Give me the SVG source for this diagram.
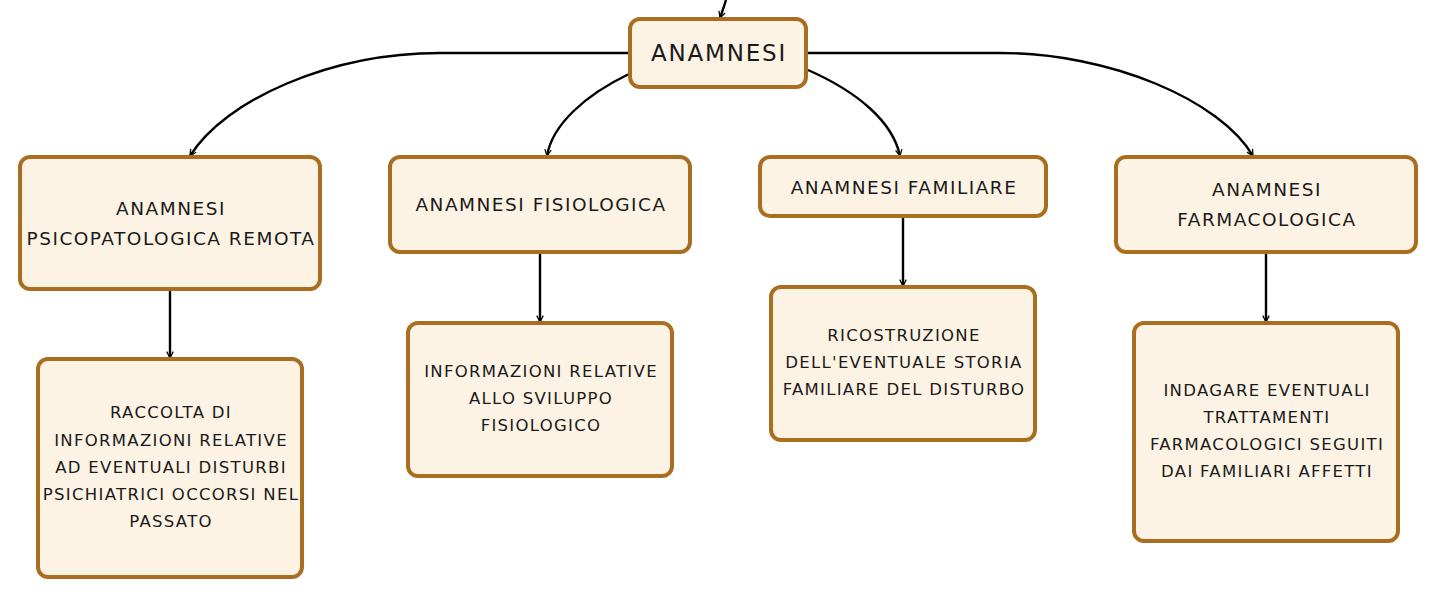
<svg xmlns="http://www.w3.org/2000/svg" width="1436" height="598" viewBox="0 0 1436 598">
<defs>
<marker id="arr" viewBox="0 0 10 10" refX="9" refY="5" markerWidth="8" markerHeight="8" markerUnits="userSpaceOnUse" orient="auto">
<path d="M1,1 L9,5 L1,9" fill="none" stroke="#000" stroke-width="1.6"/>
</marker>
<style>
.box{fill:#fdf3e5;stroke:#a96e1f;stroke-width:4}
.t{font-family:"DejaVu Sans","Open Sans",sans-serif;fill:#1a1a1a;text-anchor:middle}
.s{font-size:16.5px;letter-spacing:1.3px}
.m{font-size:18.5px;letter-spacing:1.5px}
.c{fill:none;stroke:#000;stroke-width:2.4;marker-end:url(#arr)}
</style>
</defs>
<rect width="1436" height="598" fill="#fff"/>
<g id="connectors">
<path class="c" d="M726,0 C724,7 722,12 720,18"/>
<path class="c" d="M629,53 L440,53 C330,53 225,100 190,156"/>
<path class="c" d="M629,74 C585,95 552,125 547,156"/>
<path class="c" d="M808,70 C858,92 893,122 900,156"/>
<path class="c" d="M806,53 L1000,53 C1110,53 1220,100 1253,156"/>
<path class="c" d="M170,289 L170,358"/>
<path class="c" d="M540,252 L540,322"/>
<path class="c" d="M903,216 L903,286"/>
<path class="c" d="M1266,252 L1266,322"/>
</g>
<g id="n0"><rect class="box" x="630" y="19" width="176" height="68" rx="10"/><text class="t" x="719" y="61" font-size="23" letter-spacing="1.8">ANAMNESI</text></g>
<g id="n1"><rect class="box" x="20" y="157" width="300" height="132" rx="10"/><text class="t m" x="171" y="215">ANAMNESI</text><text class="t m" x="171" y="245">PSICOPATOLOGICA REMOTA</text></g>
<g id="n2"><rect class="box" x="390" y="157" width="300" height="95" rx="10"/><text class="t m" x="541" y="211">ANAMNESI FISIOLOGICA</text></g>
<g id="n3"><rect class="box" x="760" y="157" width="286" height="59" rx="10"/><text class="t m" x="904" y="194">ANAMNESI FAMILIARE</text></g>
<g id="n4"><rect class="box" x="1116" y="157" width="300" height="95" rx="10"/><text class="t m" x="1267" y="196">ANAMNESI</text><text class="t m" x="1267" y="226">FARMACOLOGICA</text></g>
<g id="c1"><rect class="box" x="38" y="359" width="264" height="218" rx="10"/>
<text class="t s" x="171" y="418">RACCOLTA DI</text>
<text class="t s" x="171" y="446">INFORMAZIONI RELATIVE</text>
<text class="t s" x="171" y="473">AD EVENTUALI DISTURBI</text>
<text class="t s" x="171" y="500">PSICHIATRICI OCCORSI NEL</text>
<text class="t s" x="171" y="527">PASSATO</text></g>
<g id="c2"><rect class="box" x="408" y="323" width="264" height="153" rx="10"/>
<text class="t s" x="541" y="377">INFORMAZIONI RELATIVE</text>
<text class="t s" x="541" y="404">ALLO SVILUPPO</text>
<text class="t s" x="541" y="431">FISIOLOGICO</text></g>
<g id="c3"><rect class="box" x="771" y="287" width="264" height="153" rx="10"/>
<text class="t s" x="904" y="341">RICOSTRUZIONE</text>
<text class="t s" x="904" y="368">DELL'EVENTUALE STORIA</text>
<text class="t s" x="904" y="395">FAMILIARE DEL DISTURBO</text></g>
<g id="c4"><rect class="box" x="1134" y="323" width="264" height="218" rx="10"/>
<text class="t s" x="1267" y="396">INDAGARE EVENTUALI</text>
<text class="t s" x="1267" y="423">TRATTAMENTI</text>
<text class="t s" x="1267" y="450">FARMACOLOGICI SEGUITI</text>
<text class="t s" x="1267" y="477">DAI FAMILIARI AFFETTI</text></g>
</svg>
